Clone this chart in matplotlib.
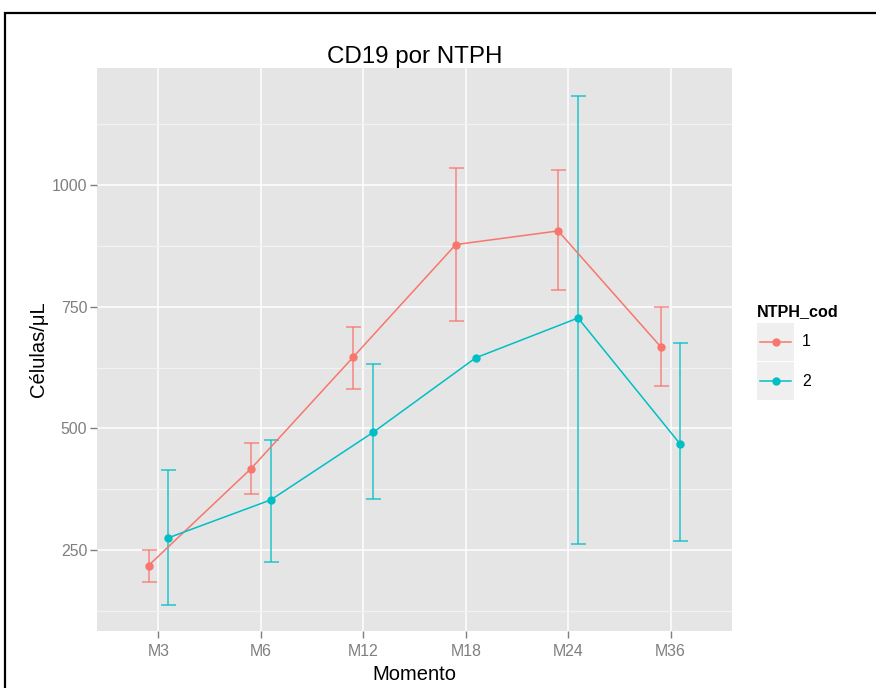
import numpy as np
import matplotlib
matplotlib.use("Agg")
import matplotlib.pyplot as plt
from matplotlib.patches import Rectangle
from matplotlib.lines import Line2D

plt.rcParams['font.family'] = ['Liberation Sans', 'DejaVu Sans']

# mean +/- interval of CD19 counts per time point, by NTPH group
momentos = ["M3", "M6", "M12", "M18", "M24", "M36"]
grupos = ["1", "2"]
media_1 = [218, 417, 647, 878, 906, 668]
inf_1 = [185, 365, 582, 721, 784, 588]
sup_1 = [249, 469, 709, 1036, 1031, 749]
media_2 = [275, 353, 492, 645, 727, 467]
inf_2 = [136, 226, 354, np.nan, 262, 268]
sup_2 = [414, 477, 632, np.nan, 1184, 675]
y_ticks = [250, 500, 750, 1000]
y_minor = [125, 375, 625, 875, 1125]

colores = ["#F8766D", "#00BFC4"]
dodge = [-0.097, 0.097]

fig = plt.figure(figsize=(8.76, 6.88), dpi=100)
ax = fig.add_axes([97 / 876, 1 - 631 / 688, 635 / 876, 563 / 688])
ax.set_facecolor("#E5E5E5")

x = np.arange(len(momentos))
series = [(media_1, inf_1, sup_1), (media_2, inf_2, sup_2)]
for (m, lo, hi), col, dx in zip(series, colores, dodge):
    m = np.array(m, float)
    lo = np.array(lo, float)
    hi = np.array(hi, float)
    xs = x + dx
    err = np.vstack([m - lo, hi - m])
    ax.errorbar(xs, m, yerr=err, fmt="none", ecolor=col, elinewidth=1.1,
                capsize=5.4, capthick=1.1, alpha=0.85, zorder=3)
    ax.plot(xs, m, color=col, lw=1.1, zorder=4)
    ax.plot(xs, m, "o", color=col, ms=5, zorder=5)

ax.set_xlim(-0.6, len(momentos) - 0.4)
ax.set_ylim(83.4, 1241)
ax.set_xticks(x)
ax.set_xticklabels(momentos)
ax.set_yticks(y_ticks)
ax.set_yticks(y_minor, minor=True)
ax.grid(which="major", color="white", lw=1.1)
ax.grid(which="minor", axis="y", color="#F2F2F2", lw=0.9)
ax.set_axisbelow(True)
for s in ax.spines.values():
    s.set_visible(False)
ax.tick_params(which="major", length=5, width=1, color="#7F7F7F",
               labelcolor="#7F7F7F", labelsize=11.4)
ax.tick_params(axis="x", pad=4.5)
ax.tick_params(axis="y", pad=2)
ax.tick_params(which="minor", length=0)

ax.set_title("CD19 por NTPH", fontsize=17.4, pad=3)
ax.set_xlabel("Momento", fontsize=14.5, labelpad=4)
ax.set_ylabel("Células/μL", fontsize=14.5, labelpad=3)

# legend drawn in figure pixels
W, H = 876, 688
fig.text(757 / W, 1 - 316 / H, "NTPH_cod", fontsize=11.6, fontweight="bold")
for i, (g, col) in enumerate(zip(grupos, colores)):
    top = 323 + i * 39
    fig.patches.append(Rectangle((757 / W, 1 - (top + 38) / H), 37 / W, 38 / H,
                                 transform=fig.transFigure, facecolor="#EFEFEF",
                                 edgecolor="none"))
    cy = 1 - (top + 19) / H
    fig.lines.append(Line2D([760 / W, 791 / W], [cy, cy], transform=fig.transFigure,
                            color=col, lw=1.1))
    fig.lines.append(Line2D([775.5 / W], [cy], transform=fig.transFigure,
                            marker="o", color=col, ms=5))
    fig.text(802 / W, cy, g, fontsize=11.4, va="center")

# outer frame
fig.patches.append(Rectangle((5 / W, -0.1), 1.2, 1 - 13 / H + 0.1,
                             transform=fig.transFigure, fill=False,
                             edgecolor="black", lw=1.6))

fig.savefig("out.png", dpi=100)
